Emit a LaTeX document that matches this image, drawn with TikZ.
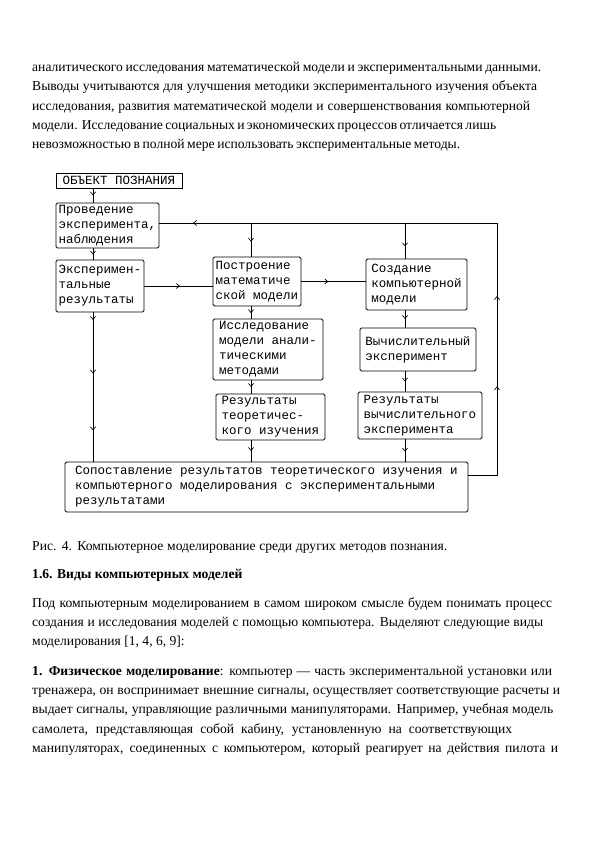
\documentclass[tikz,border=0pt]{standalone}
\usepackage{fontspec}
\setmainfont{Liberation Serif}
\newfontfamily\monofont{Liberation Mono}
\usetikzlibrary{arrows.meta,decorations.markings}
\newcommand\fitline[2]{\hbox to #1pt{#2}}
\tikzset{
  box/.style={draw, line width=0.8pt, rounded corners=1.5pt, inner sep=0pt, outer sep=0pt,
    align=left, font=\monofont\fontsize{12.5}{15}\selectfont},
  sharpbox/.style={box, rounded corners=0pt},
  conn/.style={line width=0.8pt},
  tipat/.style={postaction={decorate,decoration={markings,
    mark=at position #1 with {\arrow{Straight Barb[length=3pt,width=5pt,line width=0.7pt]}}}}},
  para/.style={anchor=base west, inner sep=0pt, font=\fontsize{13.6}{15}\selectfont}
}
\begin{document}
\begin{tikzpicture}[x=1pt,y=-1pt]
\useasboundingbox (0,0) rectangle (595,842);
\fill[white] (0,0) rectangle (595,842);

% paragraph above
\node[para] (t1) at (32,72) {\fitline{509}{аналитического исследования математической модели и экспериментальными данными.}};
\node[para] (t2) at (32,91) {\fitline{505}{Выводы учитываются для улучшения методики экспериментального изучения объекта}};
\node[para] (t3) at (32,110.5) {\fitline{498}{исследования, развития математической модели и совершенствования компьютерной}};
\node[para] (t4) at (32,130) {\fitline{464}{модели. Исследование социальных и экономических процессов отличается лишь}};
\node[para] (t5) at (32,149) {\fitline{428}{невозможностью в полной мере использовать экспериментальные методы.}};

% boxes
\node[sharpbox, minimum width=126pt, minimum height=15pt] (obj) at (119,180.5) {ОБЪЕКТ ПОЗНАНИЯ};
\node[box, minimum width=103pt, minimum height=45pt] (prov) at (107.5,225.5) {Проведение\\эксперимента,\\наблюдения};
\node[box, minimum width=88pt, minimum height=52pt] (exp) at (100,286) {Эксперимен-\\тальные\\результаты};
\node[box, minimum width=88pt, minimum height=49pt] (postr) at (257,281.5) {Построение\\математиче\\ской модели};
\node[box, minimum width=101pt, minimum height=51pt] (sozd) at (416.5,284.5) {Создание\\компьютерной\\модели};
\node[box, minimum width=110pt, minimum height=61pt] (issl) at (268,349.5) {Исследование\\модели анали-\\тическими\\методами};
\node[box, minimum width=116pt, minimum height=43pt] (vych) at (418,349.5) {Вычислительный\\эксперимент};
\node[box, minimum width=109pt, minimum height=46pt] (rt) at (270.5,417) {Результаты\\теоретичес-\\кого изучения};
\node[box, minimum width=124pt, minimum height=47pt] (rv) at (420,415.5) {Результаты\\вычислительного\\эксперимента};
\node[box, minimum width=403pt, minimum height=50pt] (sop) at (266.5,487) {Сопоставление результатов теоретического изучения и\\компьютерного моделирования с экспериментальными\\результатами};

% helper coordinates
\coordinate (lx) at (93,0);
\coordinate (mx) at (251,0);
\coordinate (rx) at (405,0);
\coordinate (rcb) at (497,475);
\coordinate (rct) at (497,223);

% connectors
\draw[conn, tipat=0.5] (obj.south -| lx) -- (prov.north -| lx);
\draw[conn, tipat=0.55] (prov.south -| lx) -- (exp.north -| lx);
\draw[conn, tipat=0.053, tipat=0.41, tipat=0.79] (exp.south -| lx) -- (sop.north -| lx);
\draw[conn, tipat=0.52] (exp.east) -- (exp.east -| postr.west);
\draw[conn, tipat=0.42] (postr.east) -- (postr.east -| sozd.west);
\draw[conn, tipat=0.55] (postr.south -| mx) -- (issl.north -| mx);
\draw[conn, tipat=0.5] (issl.south -| mx) -- (rt.north -| mx);
\draw[conn, tipat=0.5] (rt.south -| mx) -- (sop.north -| mx);
\draw[conn, tipat=0.5] (sozd.south -| rx) -- (vych.north -| rx);
\draw[conn, tipat=0.5] (vych.south -| rx) -- (rv.north -| rx);
\draw[conn, tipat=0.55] (rv.south -| rx) -- (sop.north -| rx);
\draw[conn, tipat=0.55] (rct -| mx) -- (postr.north -| mx);
\draw[conn, tipat=0.65] (rct -| rx) -- (sozd.north -| rx);
\draw[conn, tipat=0.19, tipat=0.336, tipat=0.945] (sop.east |- rcb) -- (rcb) -- (rct) -- (prov.east |- rct);

% text below
\node[para] (cap) at (32,550) {\fitline{415}{Рис. 4. Компьютерное моделирование среди других методов познания.}};
\node[para] (h1) at (32,578.5) {\textbf{1.6. Виды компьютерных моделей}};
\node[para] (p1) at (32,607.5) {\fitline{520}{Под компьютерным моделированием в самом широком смысле будем понимать процесс}};
\node[para] (p2) at (32,626.5) {\fitline{511}{создания и исследования моделей с помощью компьютера. Выделяют следующие виды}};
\node[para] (p3) at (32,645.5) {моделирования [1, 4, 6, 9]:};
\node[para] (q1) at (32,675) {\fitline{520}{\textbf{1. Физическое моделирование}: компьютер — часть экспериментальной установки или}};
\node[para] (q2) at (32,694) {\fitline{528}{тренажера, он воспринимает внешние сигналы, осуществляет соответствующие расчеты и}};
\node[para] (q3) at (32,713.5) {\fitline{521}{выдает сигналы, управляющие различными манипуляторами. Например, учебная модель}};
\node[para] (q4) at (32,733) {\fitline{480}{самолета, представляющая собой кабину, установленную на соответствующих}};
\node[para] (q5) at (32,752) {\fitline{526}{манипуляторах, соединенных с компьютером, который реагирует на действия пилота и}};
\end{tikzpicture}
\end{document}
